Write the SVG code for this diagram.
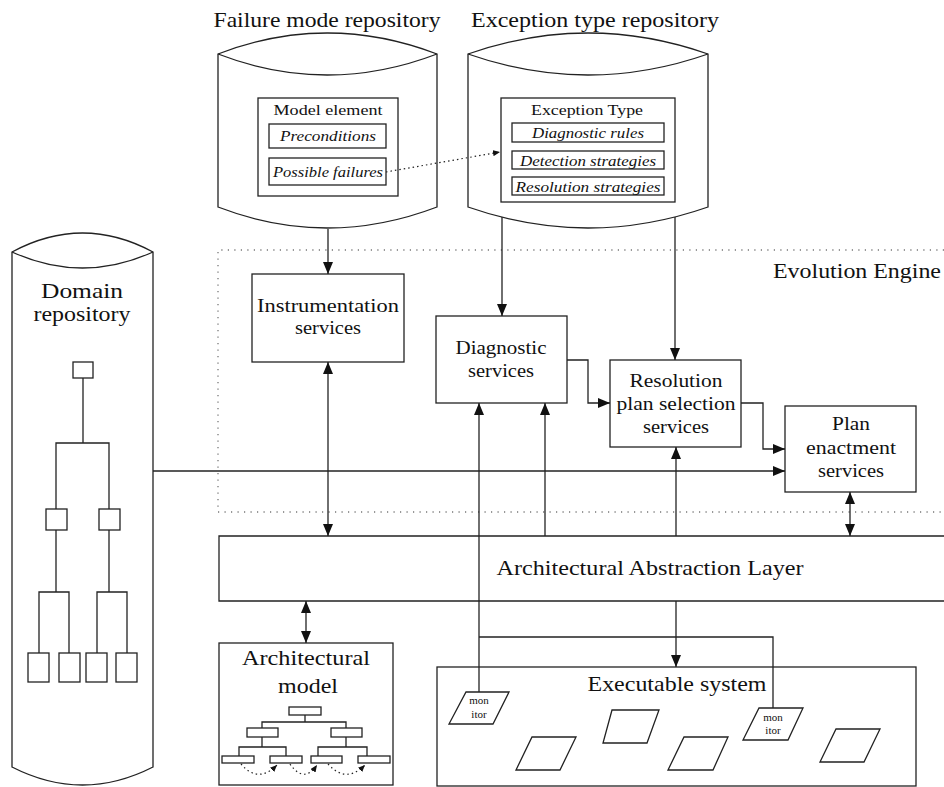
<svg xmlns="http://www.w3.org/2000/svg" width="944" height="787" viewBox="0 0 944 787">
<defs>
<style>
text{font-family:'Liberation Serif',serif;fill:#111;text-anchor:middle}
.it{font-style:italic}
.sh{fill:#fff;stroke:#222;stroke-width:1.3}
.ln{fill:none;stroke:#222;stroke-width:1.3}
.dot{fill:none;stroke:#777;stroke-width:1.3;stroke-dasharray:1.2 5.3}
.dt2{fill:none;stroke:#222;stroke-width:1.2;stroke-dasharray:1.5 3}
.t20{font-size:21px}
.t18{font-size:18.5px}
.t15{font-size:15.5px}
.t11{font-size:11px}
</style>
<marker id="ah" markerWidth="12" markerHeight="10" refX="12" refY="5" orient="auto-start-reverse" markerUnits="userSpaceOnUse">
<path d="M0,0 L12,5 L0,10 Z" fill="#111"/>
</marker>
<marker id="as" markerWidth="7" markerHeight="6" refX="7" refY="3" orient="auto" markerUnits="userSpaceOnUse">
<path d="M0,0 L7,3 L0,6 Z" fill="#111"/>
</marker>
</defs>
<g font-family="Liberation Serif, serif">
<g id="evolution-engine">
<path class="dot" d="M944,250 H218 V512 H944"/>
<text class="t20" x="857" y="278" textLength="168" lengthAdjust="spacingAndGlyphs">Evolution Engine</text>
</g>

<g id="failure-mode-repository">
<text class="t20" x="327" y="27" textLength="227" lengthAdjust="spacingAndGlyphs">Failure mode repository</text>
<path class="sh" d="M218,54 Q327,12 437,54 V207 Q327,249 218,207 Z"/>
<path class="ln" d="M218,54 Q327,96 437,54"/>
<rect class="sh" x="258" y="98" width="140" height="98"/>
<text class="t15" x="328" y="115" textLength="109" lengthAdjust="spacingAndGlyphs">Model element</text>
<rect class="sh" x="269" y="124" width="117" height="24"/>
<text class="t15 it" x="328" y="141" textLength="96" lengthAdjust="spacingAndGlyphs">Preconditions</text>
<rect class="sh" x="269" y="158" width="117" height="27"/>
<text class="t15 it" x="328" y="177" textLength="110" lengthAdjust="spacingAndGlyphs">Possible failures</text>
</g>

<g id="exception-type-repository">
<text class="t20" x="595" y="27" textLength="248" lengthAdjust="spacingAndGlyphs">Exception type repository</text>
<path class="sh" d="M468,54 Q588,12 708,54 V207 Q588,249 468,207 Z"/>
<path class="ln" d="M468,54 Q588,96 708,54"/>
<rect class="sh" x="501" y="98" width="174" height="104"/>
<text class="t15" x="587" y="115" textLength="112" lengthAdjust="spacingAndGlyphs">Exception Type</text>
<rect class="sh" x="512" y="123" width="152" height="19"/>
<text class="t15 it" x="588" y="138" textLength="112" lengthAdjust="spacingAndGlyphs">Diagnostic rules</text>
<rect class="sh" x="512" y="151" width="152" height="18"/>
<text class="t15 it" x="588" y="166" textLength="136" lengthAdjust="spacingAndGlyphs">Detection strategies</text>
<rect class="sh" x="512" y="177" width="152" height="18"/>
<text class="t15 it" x="588" y="192" textLength="145" lengthAdjust="spacingAndGlyphs">Resolution strategies</text>
</g>

<g id="domain-repository">
<path class="sh" d="M12,252 Q82.5,214 153,252 V767 Q82.5,803 12,767 Z"/>
<path class="ln" d="M12,252 Q82.5,284 153,252"/>
<text x="82" y="298" style="font-size:21px" textLength="82" lengthAdjust="spacingAndGlyphs">Domain</text>
<text x="82" y="321" style="font-size:21px" textLength="97" lengthAdjust="spacingAndGlyphs">repository</text>
<path class="ln" d="M83,378 V443 M56,509 V443 H109 V509 M56,530 V592 M39,653 V592 H69 V653 M109,530 V592 M97,653 V592 H127 V653"/>
<rect class="sh" x="73" y="362" width="20" height="16"/>
<rect class="sh" x="46" y="509" width="21" height="21"/>
<rect class="sh" x="99" y="509" width="21" height="21"/>
<rect class="sh" x="28" y="653" width="21" height="29"/>
<rect class="sh" x="59" y="653" width="21" height="29"/>
<rect class="sh" x="86" y="653" width="21" height="29"/>
<rect class="sh" x="116" y="653" width="21" height="29"/>
</g>

<g id="instrumentation-services">
<rect class="sh" x="252" y="274" width="152" height="88"/>
<text class="t18" x="328" y="312" textLength="142" lengthAdjust="spacingAndGlyphs">Instrumentation</text>
<text class="t18" x="328" y="334" textLength="66" lengthAdjust="spacingAndGlyphs">services</text>
</g>

<g id="diagnostic-services">
<rect class="sh" x="436" y="316" width="131" height="87"/>
<text class="t18" x="501" y="354" textLength="91" lengthAdjust="spacingAndGlyphs">Diagnostic</text>
<text class="t18" x="501" y="377" textLength="66" lengthAdjust="spacingAndGlyphs">services</text>
</g>

<g id="resolution-plan-selection-services">
<rect class="sh" x="610" y="360" width="131" height="87"/>
<text class="t18" x="676" y="387" textLength="93" lengthAdjust="spacingAndGlyphs">Resolution</text>
<text class="t18" x="676" y="410" textLength="119" lengthAdjust="spacingAndGlyphs">plan selection</text>
<text class="t18" x="676" y="433" textLength="66" lengthAdjust="spacingAndGlyphs">services</text>
</g>

<g id="plan-enactment-services">
<rect class="sh" x="785" y="406" width="131" height="86"/>
<text class="t18" x="851" y="430" textLength="38" lengthAdjust="spacingAndGlyphs">Plan</text>
<text class="t18" x="851" y="454" textLength="90" lengthAdjust="spacingAndGlyphs">enactment</text>
<text class="t18" x="851" y="477" textLength="66" lengthAdjust="spacingAndGlyphs">services</text>
</g>

<g id="architectural-abstraction-layer">
<path class="sh" d="M944,536 H219 V601 H944"/>
<text class="t20" x="650" y="575" textLength="307" lengthAdjust="spacingAndGlyphs">Architectural Abstraction Layer</text>
</g>

<g id="architectural-model">
<rect class="sh" x="219" y="643" width="174" height="142"/>
<text class="t20" x="306" y="665" textLength="128" lengthAdjust="spacingAndGlyphs">Architectural</text>
<text class="t20" x="308" y="693" textLength="60" lengthAdjust="spacingAndGlyphs">model</text>
<path class="ln" d="M305,715 V722 M262,728 V722 H346 V728 M262,737 V747 M239,756 V747 H286 V756 M346,737 V747 M318,756 V747 H367 V756"/>
<rect class="sh" x="289" y="707" width="32" height="8"/>
<rect class="sh" x="247" y="728" width="31" height="9"/>
<rect class="sh" x="331" y="728" width="31" height="9"/>
<rect class="sh" x="222" y="756" width="32" height="7"/>
<rect class="sh" x="270" y="756" width="32" height="7"/>
<rect class="sh" x="311" y="756" width="31" height="7"/>
<rect class="sh" x="358" y="756" width="32" height="7"/>
<path class="dt2" d="M241,764 Q258,784 277,765" marker-end="url(#as)"/>
<path class="dt2" d="M290,764 Q304,784 317,765" marker-end="url(#as)"/>
<path class="dt2" d="M328,764 Q346,784 365,765" marker-end="url(#as)"/>
</g>

<g id="executable-system">
<rect class="sh" x="437" y="667" width="479" height="119"/>
<text class="t20" x="677" y="691" textLength="179" lengthAdjust="spacingAndGlyphs">Executable system</text>
<g id="monitor-1">
<path class="sh" d="M466,692 H509 L493,724 H449 Z"/>
<text class="t11" x="479" y="704">mon</text>
<text class="t11" x="479" y="718">itor</text>
</g>
<g id="monitor-2">
<path class="sh" d="M759,708 H803 L788,740 H743 Z"/>
<text class="t11" x="773" y="721">mon</text>
<text class="t11" x="773" y="734">itor</text>
</g>
<path class="sh" d="M532,737 H576 L560,770 H516 Z"/>
<path class="sh" d="M612,710 H659 L647,743 H603 Z"/>
<path class="sh" d="M684,737 H728 L713,770 H668 Z"/>
<path class="sh" d="M836,729 H880 L864,762 H820 Z"/>
</g>

<g id="connectors">
<path class="ln" d="M328,229 V274" marker-end="url(#ah)"/>
<path class="ln" d="M502,217 V316" marker-end="url(#ah)"/>
<path class="ln" d="M675,217 V360" marker-end="url(#ah)"/>
<path class="ln" d="M567,360 H588 V403 H610" marker-end="url(#ah)"/>
<path class="ln" d="M741,403 H763 V449 H785" marker-end="url(#ah)"/>
<path class="ln" d="M153,471 H785" marker-end="url(#ah)"/>
<path class="ln" d="M328,362 V536" marker-start="url(#ah)" marker-end="url(#ah)"/>
<path class="ln" d="M545,536 V403" marker-end="url(#ah)"/>
<path class="ln" d="M479,692 V403" marker-end="url(#ah)"/>
<path class="ln" d="M479,637 H773 V708"/>
<path class="ln" d="M676,536 V447" marker-end="url(#ah)"/>
<path class="ln" d="M850,492 V536" marker-start="url(#ah)" marker-end="url(#ah)"/>
<path class="ln" d="M676,601 V667" marker-end="url(#ah)"/>
<path class="ln" d="M306,601 V643" marker-start="url(#ah)" marker-end="url(#ah)"/>
<path class="dt2" d="M386,172 L500,152" marker-end="url(#as)"/>
</g>
</g>
</svg>
